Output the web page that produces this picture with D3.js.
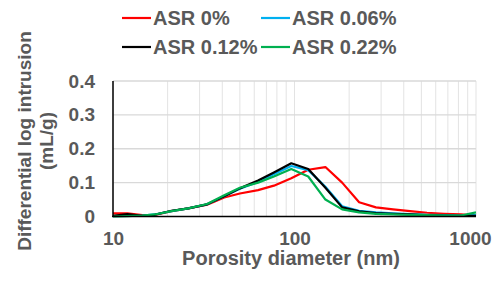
<!DOCTYPE html>
<html>
<head>
<meta charset="utf-8">
<script src="https://cdn.jsdelivr.net/npm/d3@7"></script>
<style>
  body { margin: 0; background: #fff; }
  svg { display: block; font-family: "Liberation Sans", Arial, sans-serif; font-weight: bold; }
</style>
</head>
<body>
<svg id="chart"></svg>
<script>
// pore diameters (nm) where the curves were read
const diameters = [10, 12, 14.5, 17, 21, 26, 33, 41, 50, 63, 77, 96, 119, 148, 183, 227, 281, 349, 433, 537, 666, 826, 1000];

const asr0   = [0.009, 0.009, 0.004, 0.005, 0.016, 0.024, 0.035, 0.056, 0.068, 0.078, 0.091, 0.113, 0.138, 0.146, 0.100, 0.042, 0.027, 0.021, 0.016, 0.011, 0.008, 0.006, 0.003];
const asr006 = [0.001, 0.002, 0.003, 0.006, 0.016, 0.024, 0.036, 0.060, 0.082, 0.102, 0.125, 0.149, 0.137, 0.088, 0.030, 0.017, 0.012, 0.009, 0.007, 0.005, 0.004, 0.003, 0.004];
const asr012 = [0.002, 0.007, 0.002, 0.005, 0.017, 0.024, 0.036, 0.060, 0.083, 0.106, 0.130, 0.157, 0.140, 0.085, 0.027, 0.015, 0.010, 0.008, 0.006, 0.004, 0.003, 0.002, 0.002];
const asr022 = [0.000, 0.001, 0.003, 0.006, 0.016, 0.024, 0.037, 0.063, 0.085, 0.100, 0.118, 0.140, 0.118, 0.050, 0.021, 0.012, 0.008, 0.006, 0.005, 0.004, 0.003, 0.003, 0.012];

const seriesNames = ["ASR 0%", "ASR 0.06%", "ASR 0.12%", "ASR 0.22%"];
const seriesColors = ["#FF0000", "#00B0F0", "#000000", "#00B050"];
const yTicks = [0, 0.1, 0.2, 0.3, 0.4];
const xTicks = [10, 100, 1000];

const width = 500, height = 283;
const margin = {top: 81, right: 24, bottom: 66.5, left: 113};
const textColor = "#595959";

const svg = d3.select("#chart").attr("width", width).attr("height", height);

const x = d3.scaleLog()
    .domain([10, 1000])
    .range([margin.left, width - margin.right]);

const y = d3.scaleLinear()
    .domain([0, 0.4])
    .range([height - margin.bottom, margin.top]);

// gridlines
svg.append("g").selectAll("line")
    .data(x.ticks())
    .join("line")
    .attr("x1", d => x(d)).attr("x2", d => x(d))
    .attr("y1", y(0)).attr("y2", y(0.4))
    .attr("stroke", "#E3E3E3").attr("stroke-width", 1);

svg.append("g").selectAll("line")
    .data(yTicks.slice(1))
    .join("line")
    .attr("x1", x(10)).attr("x2", x(1000))
    .attr("y1", d => y(d)).attr("y2", d => y(d))
    .attr("stroke", "#D9D9D9").attr("stroke-width", 1.3);

// axes
const yAxis = svg.append("g")
    .attr("transform", `translate(${x(10)},0)`)
    .call(d3.axisLeft(y).tickValues(yTicks).tickSize(0).tickPadding(18)
        .tickFormat(d => d === 0 ? "0" : d3.format(".1f")(d)));
yAxis.select(".domain").remove();

const xAxis = svg.append("g")
    .attr("transform", `translate(0,${y(0)})`)
    .call(d3.axisBottom(x).tickValues(xTicks).tickSize(0).tickPadding(15)
        .tickFormat(d3.format("d")));
xAxis.select(".domain").remove();
xAxis.selectAll(".tick").filter(d => d === 1000).select("text").attr("dx", -6);

svg.selectAll(".tick text")
    .attr("fill", textColor)
    .attr("font-size", 19)
    .attr("font-family", "Liberation Sans, Arial, sans-serif")
    .attr("font-weight", "bold");

// series lines
const line = d3.line()
    .x(d => x(d[0]))
    .y(d => y(d[1]));

const allSeries = [asr0, asr006, asr012, asr022];

svg.append("g").selectAll("path")
    .data(allSeries)
    .join("path")
    .attr("d", s => line(diameters.map((d, i) => [d, s[i]])))
    .attr("fill", "none")
    .attr("stroke", (s, i) => seriesColors[i])
    .attr("stroke-width", 2.2)
    .attr("stroke-linejoin", "round");

// axis lines drawn on top
svg.append("line")
    .attr("x1", x(10)).attr("x2", x(10))
    .attr("y1", y(0)).attr("y2", y(0.4))
    .attr("stroke", "#000").attr("stroke-width", 1.5);
svg.append("line")
    .attr("x1", x(10) - 1).attr("x2", x(1000))
    .attr("y1", y(0)).attr("y2", y(0))
    .attr("stroke", "#000").attr("stroke-width", 1.5);

// axis titles
svg.append("text")
    .attr("x", 291).attr("y", 265)
    .attr("text-anchor", "middle")
    .attr("fill", textColor)
    .attr("font-size", 20)
    .text("Porosity diameter (nm)");

const yTitle = svg.append("text")
    .attr("transform", "translate(31,141) rotate(-90)")
    .attr("text-anchor", "middle")
    .attr("fill", textColor)
    .attr("font-size", 19);
yTitle.append("tspan").attr("x", 0).attr("y", 0).text("Differential log intrusion");
yTitle.append("tspan").attr("x", 0).attr("y", 22).text("(mL/g)");

// legend, two columns by two rows
const legend = svg.append("g").selectAll("g")
    .data(seriesNames)
    .join("g")
    .attr("transform", (d, i) => `translate(${i % 2 === 0 ? 122 : 261},${i < 2 ? 18 : 47})`);

legend.append("line")
    .attr("x1", 0).attr("x2", 29)
    .attr("stroke", (d, i) => seriesColors[i])
    .attr("stroke-width", 2.2);

legend.append("text")
    .attr("x", 31).attr("dy", "0.35em")
    .attr("fill", textColor)
    .attr("font-size", 20)
    .text(d => d);
</script>
</body>
</html>
